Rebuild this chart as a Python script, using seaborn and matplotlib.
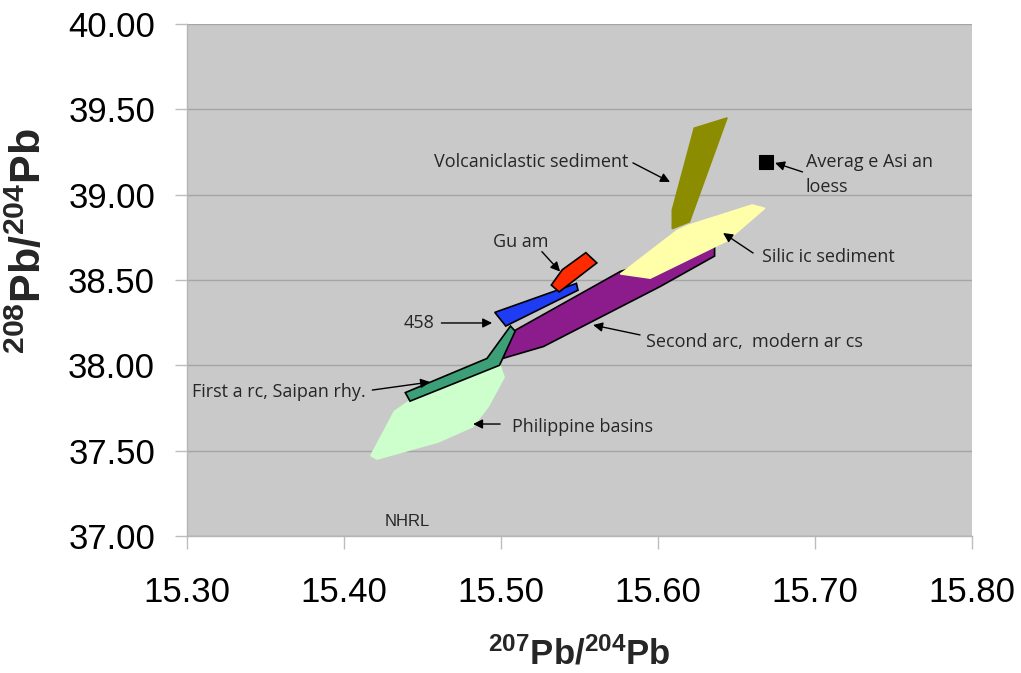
import matplotlib
matplotlib.use("Agg")
import matplotlib.pyplot as plt
import seaborn as sns

# Pb isotope fields (207Pb/204Pb, 208Pb/204Pb)
philippine_x = [15.417, 15.432, 15.443, 15.499, 15.502, 15.492, 15.482, 15.460, 15.421]
philippine_y = [37.47, 37.73, 37.80, 38.01, 37.93, 37.76, 37.64, 37.55, 37.45]

second_arc_x = [15.501, 15.527, 15.601, 15.636, 15.636, 15.576, 15.508]
second_arc_y = [38.04, 38.11, 38.46, 38.64, 38.72, 38.55, 38.20]

silicic_x = [15.576, 15.595, 15.644, 15.668, 15.660, 15.619, 15.612]
silicic_y = [38.535, 38.51, 38.73, 38.92, 38.94, 38.82, 38.79]

volcaniclastic_x = [15.609, 15.620, 15.644, 15.623, 15.609]
volcaniclastic_y = [38.80, 38.84, 39.45, 39.39, 38.91]

first_arc_x = [15.439, 15.442, 15.499, 15.509, 15.506, 15.491]
first_arc_y = [37.84, 37.79, 38.00, 38.20, 38.23, 38.04]

site458_x = [15.496, 15.503, 15.549, 15.548]
site458_y = [38.31, 38.23, 38.44, 38.48]

guam_x = [15.532, 15.537, 15.561, 15.554, 15.539]
guam_y = [38.47, 38.43, 38.60, 38.66, 38.56]

loess_x = [15.669]
loess_y = [39.19]

# labels: text, text position, arrow tail, arrow head
labels = ["Volcaniclastic sediment", "Averag e Asi an\nloess", "Gu am", "458",
          "Silic ic sediment", "Second arc,  modern ar cs", "First a rc, Saipan rhy.",
          "Philippine basins"]
label_pos = [(15.457, 39.19), (15.694, 39.12), (15.495, 38.72), (15.438, 38.25),
             (15.666, 38.635), (15.592, 38.137), (15.303, 37.844), (15.507, 37.639)]
arrow_tail = [(15.584, 39.186), (15.692, 39.133), (15.526, 38.666), (15.462, 38.248),
              (15.6605, 38.658), (15.5885, 38.178), (15.418, 37.855), (15.4994, 37.656)]
arrow_head = [(15.6076, 39.074), (15.6745, 39.186), (15.5376, 38.549), (15.4943, 38.248),
              (15.6414, 38.775), (15.5586, 38.236), (15.4548, 37.902), (15.4822, 37.656)]

x_ticks = [15.30, 15.40, 15.50, 15.60, 15.70, 15.80]
y_ticks = [37.00, 37.50, 38.00, 38.50, 39.00, 39.50, 40.00]

sns.set_theme(style="darkgrid", rc={
    "axes.facecolor": "#c9c9c9",
    "grid.color": "#a5a5a5",
    "grid.linewidth": 1.0,
})
plt.rcParams["font.family"] = ["Liberation Sans", "DejaVu Sans"]
plt.rcParams["mathtext.fontset"] = "custom"
plt.rcParams["mathtext.rm"] = "Liberation Sans"
plt.rcParams["mathtext.bf"] = "Liberation Sans:bold"

fig = plt.figure(figsize=(10.21, 6.73), dpi=100)
ax = fig.add_axes([0.1832, 0.2036, 0.7689, 0.7608])

ax.fill(philippine_x, philippine_y, color="#ccffcc", zorder=2)
ax.fill(second_arc_x, second_arc_y, facecolor="#8c1c8c", edgecolor="black", lw=1.2, zorder=3)
ax.fill(silicic_x, silicic_y, color="#ffffaa", zorder=4)
ax.fill(volcaniclastic_x, volcaniclastic_y, color="#8c8c00", zorder=4)
ax.fill(first_arc_x, first_arc_y, facecolor="#3d9f77", edgecolor="black", lw=1.2, zorder=5)
ax.fill(site458_x, site458_y, facecolor="#1f3cf5", edgecolor="black", lw=1.2, zorder=5)
ax.fill(guam_x, guam_y, facecolor="#ff2a00", edgecolor="black", lw=1.2, zorder=6)

sns.scatterplot(x=loess_x, y=loess_y, marker="s", s=95, color="black",
                edgecolor="black", ax=ax, zorder=7)

for text, pos, tail, head in zip(labels, label_pos, arrow_tail, arrow_head):
    ax.text(pos[0], pos[1], text, ha="left", va="center", fontsize=13,
            family=["Open Sans", "DejaVu Sans"], linespacing=1.5, zorder=8)
    ax.annotate("", xy=head, xytext=tail,
                arrowprops=dict(arrowstyle="-|>", color="black", lw=1,
                                mutation_scale=14, shrinkA=0, shrinkB=0),
                zorder=8)

ax.text(15.426, 37.082, "NHRL", ha="left", va="center", fontsize=12)

ax.set_xlim(15.30, 15.80)
ax.set_ylim(37.00, 40.00)
ax.set_xticks(x_ticks)
ax.set_yticks(y_ticks)
ax.set_xticklabels([f"{v:.2f}" for v in x_ticks])
ax.set_yticklabels([f"{v:.2f}" for v in y_ticks])
ax.grid(axis="x", visible=False)
ax.tick_params(axis="both", labelsize=25, colors="#bdbdbd", labelcolor="black",
               length=9, width=1, bottom=True, left=True)
ax.tick_params(axis="x", pad=20)
ax.tick_params(axis="y", pad=14)

for side in ["top", "right"]:
    ax.spines[side].set_visible(False)
for side in ["left", "bottom"]:
    ax.spines[side].set_visible(True)
    ax.spines[side].set_color("#b5b5b5")
    ax.spines[side].set_linewidth(1)

ax.set_xlabel(r"$\mathbf{{}^{207}Pb/{}^{204}Pb}$", fontsize=25)
ax.set_ylabel(r"$\mathbf{{}^{208}Pb/{}^{204}Pb}$", fontsize=31)
ax.xaxis.set_label_coords(0.5, -0.197)
ax.yaxis.set_label_coords(-0.174, 0.575)

fig.savefig("out.png", dpi=100, facecolor="white")
